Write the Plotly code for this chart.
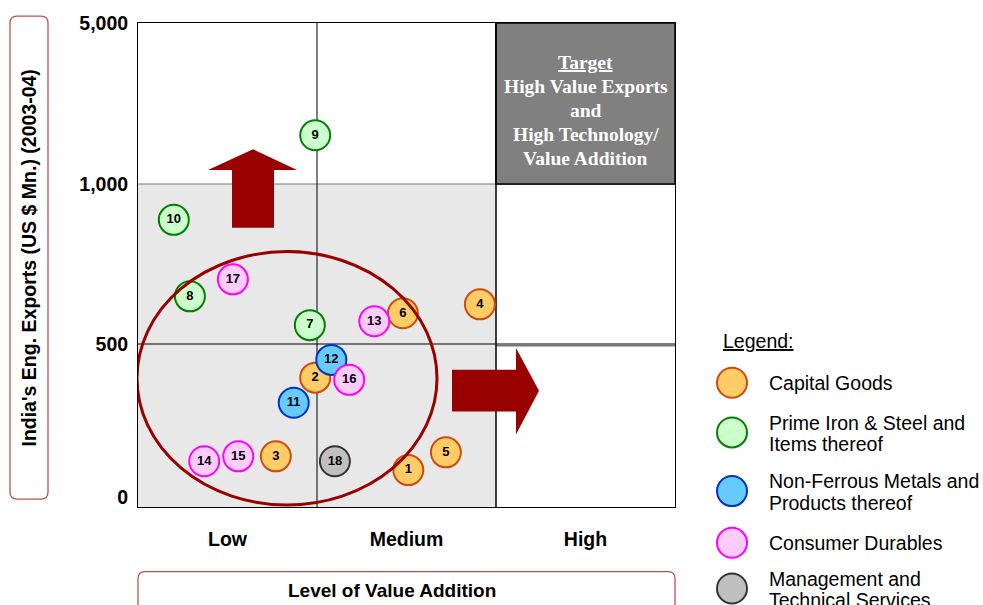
import plotly.graph_objects as go

# ---------------- data ----------------
ids = [1, 2, 3, 4, 5, 6, 7, 8, 9, 10, 11, 12, 13, 14, 15, 16, 17, 18]
value_addition = [1.51, 0.99, 0.77, 1.91, 1.72, 1.48, 0.96, 0.29, 0.99, 0.20,
                  0.87, 1.08, 1.32, 0.37, 0.56, 1.18, 0.53, 1.10]
exports = [88, 390, 133, 624, 146, 596, 559, 649, 2210, 888,
           308, 448, 571, 117, 133, 383, 702, 117]
category = ["CG", "CG", "CG", "CG", "CG", "CG", "PS", "PS", "PS", "PS",
            "NF", "NF", "CD", "CD", "CD", "CD", "CD", "MS"]

cat_keys = ["CG", "PS", "NF", "CD", "MS"]
cat_names = [["Capital Goods"],
             ["Prime Iron & Steel and", "Items thereof"],
             ["Non-Ferrous Metals and", "Products thereof"],
             ["Consumer Durables"],
             ["Management and", "Technical Services"]]
cat_fill = ["#FFCC66", "#CCFFCC", "#66CCFF", "#FFCCFF", "#C0C0C0"]
cat_line = ["#D04A10", "#008000", "#0033CC", "#FF00FF", "#333333"]

level_labels = ["Low", "Medium", "High"]
y_tick_values = [0, 500, 1000, 5000]
y_tick_labels = ["0", "500", "1,000", "5,000"]
target_lines = ["<u>Target</u>", "High Value Exports", "and", "High Technology/", "Value Addition"]


# piecewise (broken) export scale
def ypos(v):
    if v <= 500:
        return v * 154 / 500
    if v <= 1000:
        return 154 + (v - 500) * 161 / 500
    return 315 + (v - 1000) * 162 / 4000


# ---------------- layout helpers (pixel -> coords) ----------------
W, H = 983, 605
L, R, T, B = 138, 675, 20, 507
SANS = "Liberation Sans, Arial"


def px2x(px):
    return (px - L) / 179.0


def px2y(py):
    return 497 - py


def pxp(px, py):
    return (px - L) / (R - L), (B - py) / (B - T)


fig = go.Figure()

for k, key in enumerate(cat_keys):
    idx = [i for i, c in enumerate(category) if c == key]
    fig.add_trace(go.Scatter(
        x=[value_addition[i] for i in idx],
        y=[ypos(exports[i]) for i in idx],
        text=[str(ids[i]) for i in idx],
        mode="markers+text",
        texttemplate="<b>%{text}</b>",
        textposition="middle center",
        textfont=dict(family=SANS, size=13, color="#000000"),
        marker=dict(size=30, color=cat_fill[k], line=dict(color=cat_line[k], width=2)),
        showlegend=False, hoverinfo="skip",
    ))

shapes = []
# shaded low/medium region below 1,000
shapes.append(dict(type="rect", xref="x", yref="y", x0=0, x1=2, y0=-10, y1=ypos(1000),
                   fillcolor="#E8E8E8", line=dict(width=0), layer="below"))
# target box
shapes.append(dict(type="rect", xref="x", yref="y", x0=2, x1=3, y0=ypos(1000), y1=ypos(5000),
                   fillcolor="#808080", line=dict(color="#222222", width=2), layer="below"))
# grid lines
shapes.append(dict(type="line", xref="x", yref="y", x0=0, x1=2, y0=ypos(1000), y1=ypos(1000),
                   line=dict(color="#777777", width=1), layer="below"))
shapes.append(dict(type="line", xref="x", yref="y", x0=0, x1=3, y0=ypos(500), y1=ypos(500),
                   line=dict(color="#000000", width=1), layer="below"))
shapes.append(dict(type="line", xref="x", yref="y", x0=2, x1=3, y0=ypos(500) - 1.5, y1=ypos(500) - 1.5,
                   line=dict(color="#777777", width=2), layer="below"))
shapes.append(dict(type="line", xref="x", yref="y", x0=1, x1=1, y0=-10, y1=ypos(5000),
                   line=dict(color="#000000", width=1), layer="below"))
shapes.append(dict(type="line", xref="x", yref="y", x0=2, x1=2, y0=-10, y1=ypos(5000),
                   line=dict(color="#000000", width=1.5), layer="below"))

# ellipse
shapes.append(dict(type="circle", xref="x", yref="y", x0=px2x(137), x1=px2x(437),
                   y0=px2y(505), y1=px2y(250), line=dict(color="#990000", width=3), layer="above"))


def poly(pts):
    return "M " + " L ".join(f"{px2x(a):.4f},{px2y(b):.2f}" for a, b in pts) + " Z"


up = [(232, 226), (232, 168), (208, 168), (253, 147), (297, 168), (274, 168), (274, 226)]
right = [(452, 369), (516, 369), (516, 347), (539, 390), (516, 434), (516, 411), (452, 411)]
for p in (up, right):
    shapes.append(dict(type="path", xref="x", yref="y", path=poly(p),
                       fillcolor="#990000", line=dict(width=0), layer="above"))


def rounded(x0, y0, x1, y1, r):
    def P(a, b):
        xx, yy = pxp(a, b)
        return f"{xx:.5f},{yy:.5f}"
    return (f"M {P(x0 + r, y0)} L {P(x1 - r, y0)} Q {P(x1, y0)} {P(x1, y0 + r)} "
            f"L {P(x1, y1 - r)} Q {P(x1, y1)} {P(x1 - r, y1)} L {P(x0 + r, y1)} "
            f"Q {P(x0, y1)} {P(x0, y1 - r)} L {P(x0, y0 + r)} Q {P(x0, y0)} {P(x0 + r, y0)} Z")


shapes.append(dict(type="path", xref="paper", yref="paper", path=rounded(10, 13, 48, 499, 7),
                   line=dict(color="#C0504D", width=1.3), fillcolor="white"))
shapes.append(dict(type="path", xref="paper", yref="paper", path=rounded(138, 572, 675, 625, 7),
                   line=dict(color="#C0504D", width=1.3), fillcolor="white"))

# legend
legend_y = [382, 432, 491, 543, 589]
legend_text_y = [[382], [422, 444], [481, 503], [543], [579, 601]]
annotations = []
for k in range(len(cat_keys)):
    xx, yy = pxp(732, legend_y[k])
    shapes.append(dict(type="circle", xref="paper", yref="paper", xsizemode="pixel", ysizemode="pixel",
                       xanchor=xx, yanchor=yy, x0=-15, x1=15, y0=-15, y1=15,
                       fillcolor=cat_fill[k], line=dict(color=cat_line[k], width=2)))
    for line_text, line_y in zip(cat_names[k], legend_text_y[k]):
        tx, ty = pxp(767, line_y)
        annotations.append(dict(xref="paper", yref="paper", x=tx, y=ty, xanchor="left", yanchor="middle",
                                text=line_text, showarrow=False, align="left",
                                font=dict(family=SANS, size=19.5, color="#000000")))

lx, ly = pxp(721, 340)
annotations.append(dict(xref="paper", yref="paper", x=lx, y=ly, xanchor="left", yanchor="middle",
                        text="<u>Legend:</u>", showarrow=False,
                        font=dict(family=SANS, size=19.5, color="#000000")))

# target text
for i, t in enumerate(target_lines):
    annotations.append(dict(xref="x", yref="y", x=2.5, y=px2y(60 + 24 * i), xanchor="center",
                            yanchor="middle", text=f"<b>{t}</b>", showarrow=False,
                            font=dict(family="Liberation Serif, Times New Roman", size=19.5, color="white")))

# axis titles
ax, ay = pxp(29, 257)
annotations.append(dict(xref="paper", yref="paper", x=ax, y=ay, textangle=-90,
                        text="<b>India's Eng. Exports (US $ Mn.) (2003-04)</b>", showarrow=False,
                        xanchor="center", yanchor="middle",
                        font=dict(family=SANS, size=19.5, color="#000000")))
bx, by = pxp(392, 591)
annotations.append(dict(xref="paper", yref="paper", x=bx, y=by,
                        text="<b>Level of Value Addition</b>", showarrow=False,
                        xanchor="center", yanchor="middle",
                        font=dict(family=SANS, size=19, color="#000000")))

fig.update_layout(
    width=W, height=H,
    margin=dict(l=L, r=W - R, t=T, b=H - B, pad=0),
    paper_bgcolor="white", plot_bgcolor="white",
    shapes=shapes, annotations=annotations,
    showlegend=False,
    xaxis=dict(range=[0, 3], showgrid=False, zeroline=False,
               tickvals=[0.5, 1.5, 2.5], ticktext=[f"<b>{t}</b>" for t in level_labels],
               ticks="outside", ticklen=15, tickcolor="rgba(0,0,0,0)",
               tickfont=dict(family=SANS, size=19.5, color="#000000"),
               showline=True, linecolor="#000000", linewidth=1, mirror=True),
    yaxis=dict(range=[-10, 477], showgrid=False, zeroline=False,
               tickvals=[ypos(v) for v in y_tick_values],
               ticktext=[f"<b>{t}</b>" for t in y_tick_labels],
               ticks="outside", ticklen=5, tickcolor="rgba(0,0,0,0)",
               tickfont=dict(family=SANS, size=19.5, color="#000000"),
               showline=True, linecolor="#000000", linewidth=1, mirror=True),
)

fig.write_html("out.html")
